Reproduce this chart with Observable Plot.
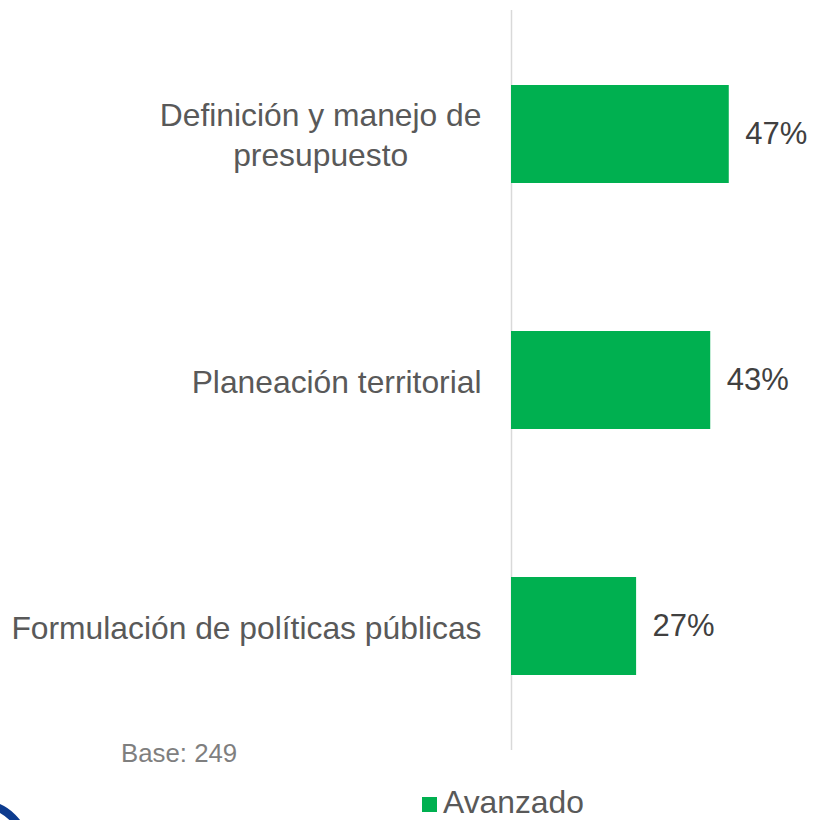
<!DOCTYPE html>
<html>
<head>
<meta charset="utf-8">
<script src="https://cdn.jsdelivr.net/npm/d3@7"></script>
<script src="https://cdn.jsdelivr.net/npm/@observablehq/plot@0.6"></script>
<style>
  html, body { margin: 0; padding: 0; background: #fff; }
  body { width: 813px; height: 820px; position: relative; overflow: hidden; font-family: "Liberation Sans", Arial, sans-serif; }
  #base { position: absolute; left: 121px; top: 738px; font-size: 25.8px; line-height: 30px; color: #7f7f7f; }
  #legend { position: absolute; left: 422px; top: 784px; font-size: 31.8px; line-height: 36px; color: #595959; display: flex; align-items: center; }
  #legend .sw { width: 15px; height: 15px; margin-right: 6px; margin-top: 4px; }
  #logo { position: absolute; left: -70px; top: 800px; width: 84px; height: 84px; border: 8px solid #0d3b8e; border-radius: 50%; }
</style>
</head>
<body>
<div id="chart"></div>
<div id="base"></div>
<div id="legend"></div>
<div id="logo"></div>
<script>
const categories = ["Definición y manejo de presupuesto", "Planeación territorial", "Formulación de políticas públicas"];
const tickLabels = ["Definición y manejo de\npresupuesto", "Planeación territorial", "Formulación de políticas públicas"];
const values = [47, 43, 27];
const seriesName = "Avanzado";
const baseNote = "Base: 249";
const barColor = "#00b050";

const data = categories.map((c, i) => ({category: c, value: values[i]}));

const chart = Plot.plot({
  width: 813,
  height: 760,
  marginLeft: 511,
  marginRight: 24,
  marginTop: 10,
  marginBottom: 10,
  style: {fontFamily: "'Liberation Sans', Arial, sans-serif", color: "#595959", background: "transparent"},
  x: {domain: [0, 60], axis: null},
  y: {domain: categories, paddingInner: 0.603, paddingOuter: 0.3015, axis: null},
  marks: [
    Plot.ruleX([0], {stroke: "#d9d9d9", strokeWidth: 1.5}),
    Plot.barX(data, {x: "value", y: "category", fill: barColor}),
    Plot.text(data, {x: "value", y: "category", text: d => d.value + "%", textAnchor: "start", dx: 16, fontSize: 31, fill: "#404040"}),
    Plot.axisY({tickSize: 0, tickPadding: 30, fontSize: 31.8, fill: "#595959", label: null,
      tickFormat: d => tickLabels[categories.indexOf(d)], lineHeight: 1.26})
  ]
});
document.getElementById("chart").append(chart);

// center multi-line tick labels like the original
chart.querySelectorAll("text").forEach(t => {
  const spans = t.querySelectorAll("tspan");
  if (spans.length > 1) {
    const bb = t.getBBox();
    t.setAttribute("text-anchor", "middle");
    spans.forEach(s => s.setAttribute("x", bb.x + bb.width / 2));
    t.setAttribute("transform", (t.getAttribute("transform") || "") + " translate(0,-1.5)");
  }
});

document.getElementById("base").textContent = baseNote;
const lg = document.getElementById("legend");
const sw = document.createElement("span");
sw.className = "sw";
sw.style.background = barColor;
lg.append(sw);
const lt = document.createElement("span");
lt.textContent = seriesName;
lg.append(lt);
</script>
</body>
</html>
